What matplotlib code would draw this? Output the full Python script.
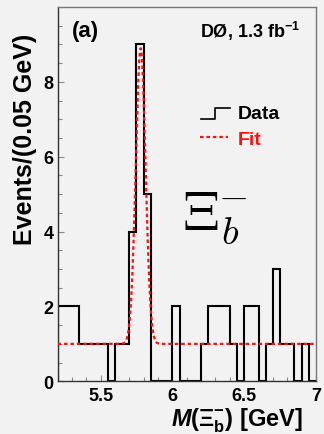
'''
 Xi_b- invariant mass distribution with fit (D0, 1.3 fb^-1)
'''

import numpy as np
import matplotlib
matplotlib.use('Agg')
import matplotlib.pyplot as plt
from matplotlib.lines import Line2D

# histogram: 36 bins of 0.05 GeV from 5.2 to 7.0 GeV
mass_lo = 5.2
mass_hi = 7.0
bin_width = 0.05
counts = [2, 2, 2, 1, 1, 1, 1, 0, 1, 1, 4, 9, 5, 0, 0, 0, 2, 0,
          0, 0, 1, 2, 2, 2, 1, 0, 2, 2, 0, 1, 3, 1, 1, 0, 1, 0]

# fit result: gaussian signal on flat background
fit_mean = 5.779
fit_sigma = 0.034
fit_amplitude = 7.9
fit_background = 1.0

x_ticks = [5.5, 6, 6.5, 7]
x_tick_labels = ['5.5', '6', '6.5', '7']
y_ticks = [0, 2, 4, 6, 8]

BG = '#f2f2f2'
RED = '#ff1010'

plt.rcParams['font.family'] = ['Liberation Sans', 'DejaVu Sans']
plt.rcParams['mathtext.fontset'] = 'custom'
plt.rcParams['mathtext.rm'] = 'Liberation Sans:bold'
plt.rcParams['mathtext.it'] = 'Liberation Sans:italic:bold'
plt.rcParams['mathtext.bf'] = 'Liberation Sans:bold'


def plot_mass_histogram():
    '''
    Draws the step histogram, the fit curve and the labels
    '''
    fig = plt.figure(figsize=(3.24, 4.35), dpi=100, facecolor=BG)
    ax = fig.add_axes([0.1775, 0.1211, 0.7978, 0.8605], facecolor=BG)

    n_bins = len(counts)
    edges = mass_lo + bin_width * np.arange(n_bins + 1)
    ax.stairs(counts, edges, baseline=0, color='black', linewidth=1.5,
              zorder=2)

    x_fit = np.linspace(mass_lo, mass_hi, 600)
    y_fit = fit_background + fit_amplitude * np.exp(
        -0.5 * ((x_fit - fit_mean) / fit_sigma) ** 2)
    ax.plot(x_fit, y_fit, color=RED, linewidth=1.6,
            linestyle=(0, (1.6, 1.3)), zorder=3)

    ax.set_xlim(mass_lo, mass_hi)
    ax.set_ylim(0, 10)
    ax.set_xticks(x_ticks)
    ax.set_xticklabels(x_tick_labels)
    ax.set_xticks(np.arange(5.2, 7.0, 0.1), minor=True)
    ax.set_yticks(y_ticks)
    ax.set_yticks(np.arange(0, 10, 0.5), minor=True)
    ax.tick_params(which='both', direction='in', color='#888888',
                   top=False, right=False)
    ax.tick_params(which='major', length=4.5, width=0.8, labelsize=13)
    ax.tick_params(which='minor', length=3, width=0.8)
    ax.tick_params(axis='x', pad=4)
    ax.tick_params(axis='y', pad=3)
    for label in ax.get_xticklabels() + ax.get_yticklabels():
        label.set_fontweight('bold')

    for side in ['top', 'right']:
        ax.spines[side].set_color('#777777')
    for side in ['left', 'bottom']:
        ax.spines[side].set_color('#333333')
    for spine in ax.spines.values():
        spine.set_linewidth(1.0)

    ax.set_ylabel('Events/(0.05 GeV)', fontsize=18, fontweight='bold')
    ax.yaxis.set_label_coords(-0.08, 0.93)
    ax.yaxis.label.set_horizontalalignment('right')
    ax.set_xlabel(r'$\mathit{M}$($\Xi_{\mathrm{b}}^{\mathrm{-}}$) [GeV]',
                  fontsize=17, fontweight='bold')
    ax.xaxis.set_label_coords(0.95, -0.064)
    ax.xaxis.label.set_horizontalalignment('right')

    ax.text(0.056, 0.937, '(a)', transform=ax.transAxes, fontsize=16,
            fontweight='bold', va='center', ha='left')
    ax.text(0.938, 0.919, r'DØ, 1.3 fb$^{\mathregular{-1}}$',
            transform=ax.transAxes, fontsize=13, fontweight='bold',
            va='baseline', ha='right')

    # legend
    ax.add_line(Line2D([0.554, 0.609, 0.609, 0.667],
                       [0.7008, 0.7008, 0.730, 0.730],
                       transform=ax.transAxes, color='black', linewidth=1.2))
    ax.add_line(Line2D([0.551, 0.660], [0.653, 0.653],
                       transform=ax.transAxes, color=RED, linewidth=1.6,
                       linestyle=(0, (1.6, 1.3))))
    ax.text(0.698, 0.715, 'Data', transform=ax.transAxes, fontsize=14,
            fontweight='bold', va='center', ha='left')
    ax.text(0.698, 0.646, 'Fit', transform=ax.transAxes, fontsize=14,
            fontweight='bold', va='center', ha='left', color=RED)

    ax.text(0.480, 0.407, r'$\Xi_b^{\hspace{-0.3}-}$', transform=ax.transAxes,
            fontsize=40, math_fontfamily='cm', va='baseline', ha='left')

    fig.savefig('out.png', dpi=100, facecolor=BG)


plot_mass_histogram()
